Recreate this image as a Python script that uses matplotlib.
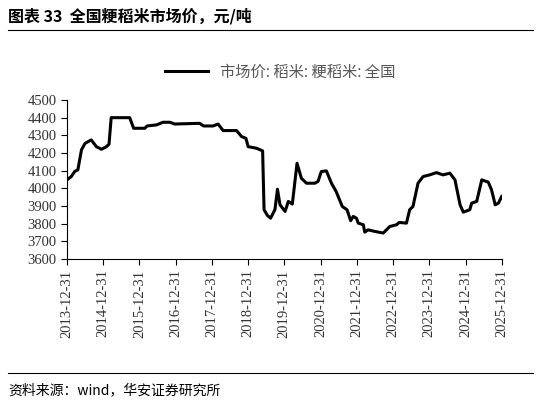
import matplotlib
matplotlib.use("Agg")
import matplotlib.pyplot as plt
import pandas as pd

years = [2014.0,2014.12,2014.21,2014.3,2014.4,2014.5,2014.67,2014.81,2014.95,2015.09,2015.16,2015.22,2015.73,2015.84,
2016.15,2016.21,2016.47,2016.65,2016.84,2016.97,2017.66,2017.77,2018.03,2018.17,2018.31,2018.68,2018.82,2018.94,2019.0,
2019.23,2019.40,2019.44,2019.53,2019.62,2019.74,2019.81,2019.88,2020.02,2020.11,2020.22,2020.35,2020.47,2020.61,2020.84,
2020.93,2021.02,2021.16,2021.30,2021.43,2021.60,2021.73,2021.83,2021.90,2021.99,2022.04,2022.18,2022.22,2022.31,2022.50,
2022.73,2022.91,2023.10,2023.17,2023.37,2023.46,2023.55,2023.69,2023.83,2024.01,2024.20,2024.38,2024.57,2024.71,2024.85,
2024.94,2025.12,2025.17,2025.31,2025.45,2025.63,2025.72,2025.82,2025.91,2026.0]
prices = [4048,4067,4095,4105,4218,4255,4274,4236,4221,4236,4250,4400,4400,4340,
4340,4353,4359,4374,4374,4364,4368,4353,4353,4364,4327,4327,4293,4283,4236,
4227,4212,3879,3847,3831,3879,3995,3907,3869,3926,3911,4142,4057,4029,4029,
4039,4095,4099,4029,3982,3897,3879,3817,3841,3831,3803,3794,3752,3765,3756,
3747,3784,3794,3807,3803,3879,3897,4029,4067,4076,4089,4076,4086,4048,3907,
3865,3879,3916,3926,4048,4035,3991,3907,3916,3954]
tick_labels = [f"{y}-12-31" for y in range(2013, 2026)]
yticks = list(range(3600, 4501, 100))

base = pd.Timestamp("2013-12-31")
dates = [base + pd.Timedelta(days=(y - 2014.0) * 365.25) for y in years]

plt.rcParams['font.family'] = ['Noto Sans CJK SC', 'DejaVu Sans']
fig = plt.figure(figsize=(5.41, 4.07), dpi=100)
ax = fig.add_axes([67/541, 1-259/407, (502-67)/541, (259-100)/407])
ax.plot(dates, prices, color='black', lw=2.2, label='市场价: 稻米: 粳稻米: 全国')
ax.set_ylim(3600, 4500)
ax.set_yticks(yticks)
tdates = [pd.Timestamp(t) for t in tick_labels]
ax.set_xticks(tdates)
ax.set_xticklabels(tick_labels, rotation=90, family='Liberation Serif', fontsize=10.5, color='#333333')
ax.set_xlim(tdates[0], tdates[-1] + pd.Timedelta(days=3))
for t in ax.get_yticklabels():
    t.set_family('Liberation Serif'); t.set_fontsize(10.5); t.set_color('#333333')
for s in ['top', 'right']:
    ax.spines[s].set_visible(False)
ax.tick_params(length=4, width=0.8)
leg = ax.legend(loc='upper center', bbox_to_anchor=(0.49, 1.0 + 50/159), frameon=False,
                fontsize=11, handlelength=2.8, labelcolor='#555555')

fig.text(8/541, 1-16/407, '图表 33  全国粳稻米市场价，元/吨', fontsize=11.5, weight='bold', va='center')
fig.add_artist(plt.Line2D([8/541, 533/541], [1-30/407, 1-30/407], color='black', lw=0.8))
fig.add_artist(plt.Line2D([8/541, 533/541], [1-373/407, 1-373/407], color='black', lw=0.8))
fig.text(8/541, 1-390/407, '资料来源：wind，华安证券研究所', fontsize=10, va='center')
fig.savefig('out.png', dpi=100)
